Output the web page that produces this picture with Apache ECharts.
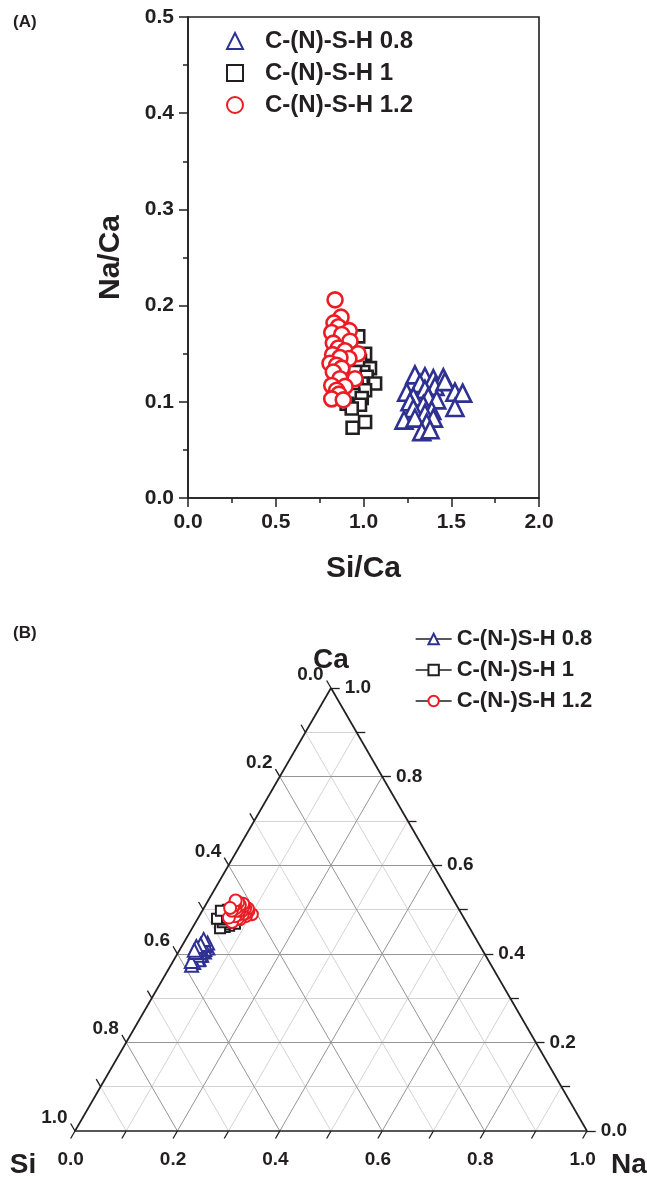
<!DOCTYPE html>
<html><head><meta charset="utf-8">
<script src="https://cdn.jsdelivr.net/npm/echarts@6/dist/echarts.min.js"></script>
<style>html,body{margin:0;padding:0;background:#fff}#c{width:647px;height:1179px}</style>
</head><body><div id="c"></div>
<script>
// ---------- DATA ----------
const namesA = ['C-(N)-S-H 0.8', 'C-(N)-S-H 1', 'C-(N)-S-H 1.2'];
const namesB = ['C-(N-)S-H 0.8', 'C-(N-)S-H 1', 'C-(N-)S-H 1.2'];

// Si/Ca and Na/Ca, sample C-(N)-S-H 0.8
const siCa08 = [1.293,1.350,1.398,1.455,1.322,1.407,1.464,1.246,1.350,1.521,1.565,1.284,1.369,1.417,1.265,1.341,1.521,1.284,1.389,1.350,1.231,1.293,1.398,1.360,1.332,1.379];
const naCa08 = [0.128,0.126,0.124,0.125,0.119,0.116,0.121,0.110,0.113,0.110,0.109,0.105,0.105,0.102,0.100,0.097,0.094,0.093,0.091,0.088,0.081,0.083,0.083,0.078,0.069,0.071];
// sample C-(N)-S-H 1
const siCa10 = [0.970,1.009,0.980,1.037,0.999,0.952,1.018,1.066,0.990,0.961,1.009,0.942,0.990,0.904,0.980,0.933,1.009,0.938];
const naCa10 = [0.168,0.150,0.142,0.135,0.131,0.131,0.126,0.119,0.119,0.116,0.112,0.107,0.104,0.098,0.097,0.093,0.079,0.073];
// sample C-(N)-S-H 1.2
const siCa12 = [0.838,0.872,0.832,0.857,0.919,0.819,0.876,0.923,0.828,0.857,0.895,0.969,0.824,0.917,0.866,0.809,0.847,0.876,0.828,0.952,0.866,0.819,0.895,0.847,0.860,0.819,0.885];
const naCa12 = [0.206,0.188,0.182,0.178,0.174,0.172,0.170,0.163,0.161,0.156,0.153,0.150,0.149,0.145,0.146,0.140,0.138,0.135,0.131,0.124,0.124,0.117,0.116,0.112,0.108,0.103,0.102];

const xTickLabelsA = ['0.0','0.5','1.0','1.5','2.0'];
const yTickLabelsA = ['0.0','0.1','0.2','0.3','0.4','0.5'];
const ternTicks = [0,0.1,0.2,0.3,0.4,0.5,0.6,0.7,0.8,0.9,1.0];
const ternLabelValues = [0,0.2,0.4,0.6,0.8,1.0];
const cornerNames = ['Si','Ca','Na'];

const BLUE = '#2e3192', BLACK = '#231f20', RED = '#ed1c24';

// ---------- helpers ----------
const H = Math.sqrt(3) / 2;
function tern(na, ca) { return [na + ca / 2, ca * H]; }
function zip(a, b) { return a.map((v, i) => [v, b[i]]); }
// composition fractions from the same ratios: Ca = 1/(1+Si/Ca+Na/Ca)
function ternFromRatios(si, na) {
  return si.map((r, i) => { const ca = 1 / (1 + r + na[i]); return tern(na[i] * ca, ca); });
}

const gridMinor = [], gridMajor = [];
ternTicks.forEach(v => {
  if (v <= 0 || v >= 1) return;
  const major = Math.round(v * 10) % 2 === 0;
  const arr = major ? gridMajor : gridMinor;
  arr.push({ coords: [tern(0, v), tern(1 - v, v)] });     // const Ca
  arr.push({ coords: [tern(v, 0), tern(v, 1 - v)] });     // const Na
  arr.push({ coords: [tern(1 - v, 0), tern(0, 1 - v)] }); // const Si
});
const L = 0.017;
const tickLines = [], labBottom = [], labRight = [], labLeft = [];
ternTicks.forEach(v => {
  const b0 = tern(v, 0), b1 = [b0[0] - 0.5 * L, b0[1] - H * L];
  const r0 = tern(1 - v, v), r1 = [r0[0] + L, r0[1]];
  const l0 = tern(0, 1 - v), l1 = [l0[0] - 0.5 * L, l0[1] + H * L];
  tickLines.push({ coords: [b0, b1] }, { coords: [r0, r1] }, { coords: [l0, l1] });
  if (ternLabelValues.some(t => Math.abs(t - v) < 1e-9)) {
    const t = v.toFixed(1);
    labBottom.push([b1[0], b1[1], t]);
    labRight.push([r1[0], r1[1], t]);
    labLeft.push([l1[0], l1[1], t]);
  }
});
const border = [{ coords: [tern(0,0), tern(1,0)] }, { coords: [tern(1,0), tern(0,1)] }, { coords: [tern(0,1), tern(0,0)] }];

const FONT = 'Liberation Sans, Arial, sans-serif';

function labelSeries(data, pos, dist, offset) {
  return {
    type: 'scatter', xAxisIndex: 1, yAxisIndex: 1, data: data, symbolSize: 0, silent: true, clip: false,
    itemStyle: { color: BLACK, opacity: 1 },
    label: { show: true, position: pos, distance: dist, offset: offset, formatter: p => p.value[2],
      fontSize: 19, fontWeight: 'bold', color: BLACK, opacity: 1, fontFamily: FONT }
  };
}

const symA = ['triangle', 'rect', 'circle'];
const colA = [BLUE, BLACK, RED];
const sizeA = [17, 12, 15];
const sizeB = [13, 10, 12];
const dataA = [zip(siCa08, naCa08), zip(siCa10, naCa10), zip(siCa12, naCa12)];
const dataB = [ternFromRatios(siCa08, naCa08), ternFromRatios(siCa10, naCa10), ternFromRatios(siCa12, naCa12)];

const series = [];
series.push({ type: 'lines', coordinateSystem: 'cartesian2d', xAxisIndex: 1, yAxisIndex: 1, data: gridMinor, silent: true, clip: false,
  lineStyle: { color: '#d4d4d4', width: 1, opacity: 1 }, z: 1 });
series.push({ type: 'lines', coordinateSystem: 'cartesian2d', xAxisIndex: 1, yAxisIndex: 1, data: gridMajor, silent: true, clip: false,
  lineStyle: { color: '#959595', width: 1, opacity: 1 }, z: 1 });
series.push({ type: 'lines', coordinateSystem: 'cartesian2d', xAxisIndex: 1, yAxisIndex: 1, data: tickLines, silent: true, clip: false,
  lineStyle: { color: BLACK, width: 1.3, opacity: 1 }, z: 2 });
series.push({ type: 'lines', coordinateSystem: 'cartesian2d', xAxisIndex: 1, yAxisIndex: 1, data: border, silent: true, clip: false,
  lineStyle: { color: BLACK, width: 1.7, opacity: 1 }, z: 2 });
series.push(labelSeries(labBottom, 'bottom', 12, [0, 0]));
series.push(labelSeries(labRight, 'right', 5, [0, 0]));
series.push(labelSeries(labLeft, 'left', 3, [0, -6]));
series.push({ type: 'scatter', xAxisIndex: 1, yAxisIndex: 1, symbolSize: 0, silent: true, clip: false,
  itemStyle: { color: BLACK, opacity: 1 },
  data: [
    { value: tern(0, 0), label: { offset: [-52, 34] } },
    { value: tern(0, 1), label: { offset: [0, -28] } },
    { value: tern(1, 0), label: { offset: [42, 34] } }
  ],
  label: { show: true, position: 'inside', formatter: p => cornerNames[p.dataIndex],
    fontSize: 28, fontWeight: 'bold', color: BLACK, opacity: 1, textBorderWidth: 0, fontFamily: FONT }
});

for (let i = 0; i < 3; i++) {
  series.push({ name: namesA[i], type: 'scatter', xAxisIndex: 0, yAxisIndex: 0, data: dataA[i],
    symbol: symA[i], symbolSize: sizeA[i], z: 5,
    itemStyle: { color: '#fff', borderColor: colA[i], borderWidth: 2.6, opacity: 1 } });
}
for (let i = 0; i < 3; i++) {
  series.push({ name: namesB[i], type: 'line', xAxisIndex: 1, yAxisIndex: 1, data: dataB[i],
    symbol: symA[i], symbolSize: sizeB[i], showSymbol: true, z: 5,
    lineStyle: { width: 0, opacity: 0 },
    itemStyle: { color: '#fff', borderColor: colA[i], borderWidth: 2, opacity: 1 } });
}

const axisCommonA = {
  axisLine: { show: true, onZero: false, lineStyle: { color: BLACK, width: 1.6 } },
  axisTick: { show: true, inside: false, length: 9, lineStyle: { color: BLACK, width: 1.5 } },
  minorTick: { show: true, splitNumber: 2, length: 5, lineStyle: { color: BLACK, width: 1.5 } },
  splitLine: { show: false }, minorSplitLine: { show: false },
  nameTextStyle: { fontSize: 30, fontWeight: 'bold', color: BLACK, fontFamily: FONT }
};

const option = {
  animation: false,
  backgroundColor: '#fff',
  title: [
    { text: '(A)', left: 8, top: 9, textStyle: { fontSize: 17, fontWeight: 'bold', color: BLACK, fontFamily: FONT } },
    { text: '(B)', left: 8, top: 620, textStyle: { fontSize: 17, fontWeight: 'bold', color: BLACK, fontFamily: FONT } }
  ],
  grid: [
    { left: 188, top: 17, width: 351, height: 481, show: true, borderColor: BLACK, borderWidth: 1.6, backgroundColor: 'transparent' },
    { left: 75, top: 688, width: 512, height: 443 }
  ],
  xAxis: [
    Object.assign({ gridIndex: 0, type: 'value', min: 0, max: 2, interval: 0.5,
      name: 'Si/Ca', nameLocation: 'middle', nameGap: 56,
      axisLabel: { fontSize: 21, fontWeight: 'bold', color: BLACK, margin: 14, fontFamily: FONT,
        formatter: v => xTickLabelsA[Math.round(v / 0.5)] } }, axisCommonA),
    { gridIndex: 1, type: 'value', min: 0, max: 1, show: false }
  ],
  yAxis: [
    Object.assign({ gridIndex: 0, type: 'value', min: 0, max: 0.5, interval: 0.1,
      name: 'Na/Ca', nameLocation: 'middle', nameGap: 62, nameRotate: 90,
      axisLabel: { fontSize: 21, fontWeight: 'bold', color: BLACK, margin: 14, fontFamily: FONT,
        formatter: v => yTickLabelsA[Math.round(v / 0.1)] } }, axisCommonA),
    { gridIndex: 1, type: 'value', min: 0, max: H, show: false }
  ],
  legend: [
    { data: namesA, orient: 'vertical', left: 221, top: 24, itemWidth: 16, itemHeight: 16, itemGap: 8,
      selectedMode: false,
      textStyle: { fontSize: 24, fontWeight: 'bold', color: BLACK, fontFamily: FONT, padding: [0, 0, 0, 17] } },
    { data: namesB, orient: 'vertical', left: 410, top: 623, itemWidth: 36, itemHeight: 13, itemGap: 9,
      selectedMode: false,
      lineStyle: { color: BLACK, width: 1.3, opacity: 1 },
      textStyle: { fontSize: 22, fontWeight: 'bold', color: BLACK, fontFamily: FONT } }
  ],
  series: series
};

const chart = echarts.init(document.getElementById('c'), null, { renderer: 'canvas' });
chart.setOption(option);
</script>
</body></html>
